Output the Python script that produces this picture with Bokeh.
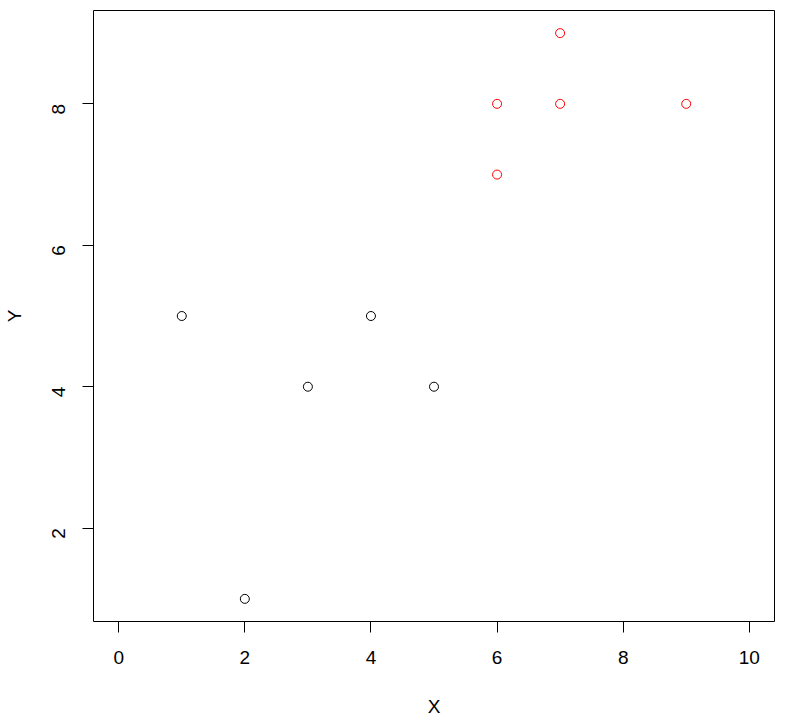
import math
from bokeh.plotting import figure
from bokeh.models import Range1d, FixedTicker
from bokeh.embed import file_html
from bokeh.resources import INLINE

black_x = [1, 2, 3, 4, 5]
black_y = [5, 1, 4, 5, 4]
red_x = [6, 6, 7, 7, 9]
red_y = [8, 7, 9, 8, 8]
x_ticks = [0, 2, 4, 6, 8, 10]
y_ticks = [2, 4, 6, 8]

p = figure(frame_width=681, frame_height=611, output_backend="svg", toolbar_location=None,
           x_range=Range1d(-0.4, 10.4), y_range=Range1d(0.68, 9.32),
           min_border_left=92, min_border_top=10, min_border_right=3, min_border_bottom=90)
p.grid.visible = False
p.outline_line_color = "black"
p.outline_line_width = 1
p.background_fill_color = "white"
p.border_fill_color = "white"

for ax in (p.xaxis[0], p.yaxis[0]):
    ax.axis_line_color = None
    ax.minor_tick_line_color = None
    ax.major_tick_out = 11
    ax.major_tick_in = 0
    ax.major_tick_line_color = "black"
    ax.major_label_text_font = "Liberation Sans"
    ax.major_label_text_font_size = "19px"
    ax.major_label_text_color = "black"
    ax.axis_label_text_font = "Liberation Sans"
    ax.axis_label_text_font_size = "19px"
    ax.axis_label_text_font_style = "normal"
    ax.axis_label_text_color = "black"

p.xaxis[0].ticker = FixedTicker(ticks=x_ticks)
p.yaxis[0].ticker = FixedTicker(ticks=y_ticks)
p.yaxis[0].major_label_orientation = math.pi / 2
p.xaxis[0].major_label_standoff = 18
p.yaxis[0].major_label_standoff = 24
p.xaxis[0].axis_label = "X"
p.yaxis[0].axis_label = "Y"
p.xaxis[0].axis_label_standoff = 29
p.yaxis[0].axis_label_standoff = 18

p.scatter(black_x, black_y, marker="circle", size=9, fill_color=None, line_color="black", line_width=1)
p.scatter(red_x, red_y, marker="circle", size=9, fill_color=None, line_color="red", line_width=1)

open("out.html", "w").write(file_html(p, INLINE))
